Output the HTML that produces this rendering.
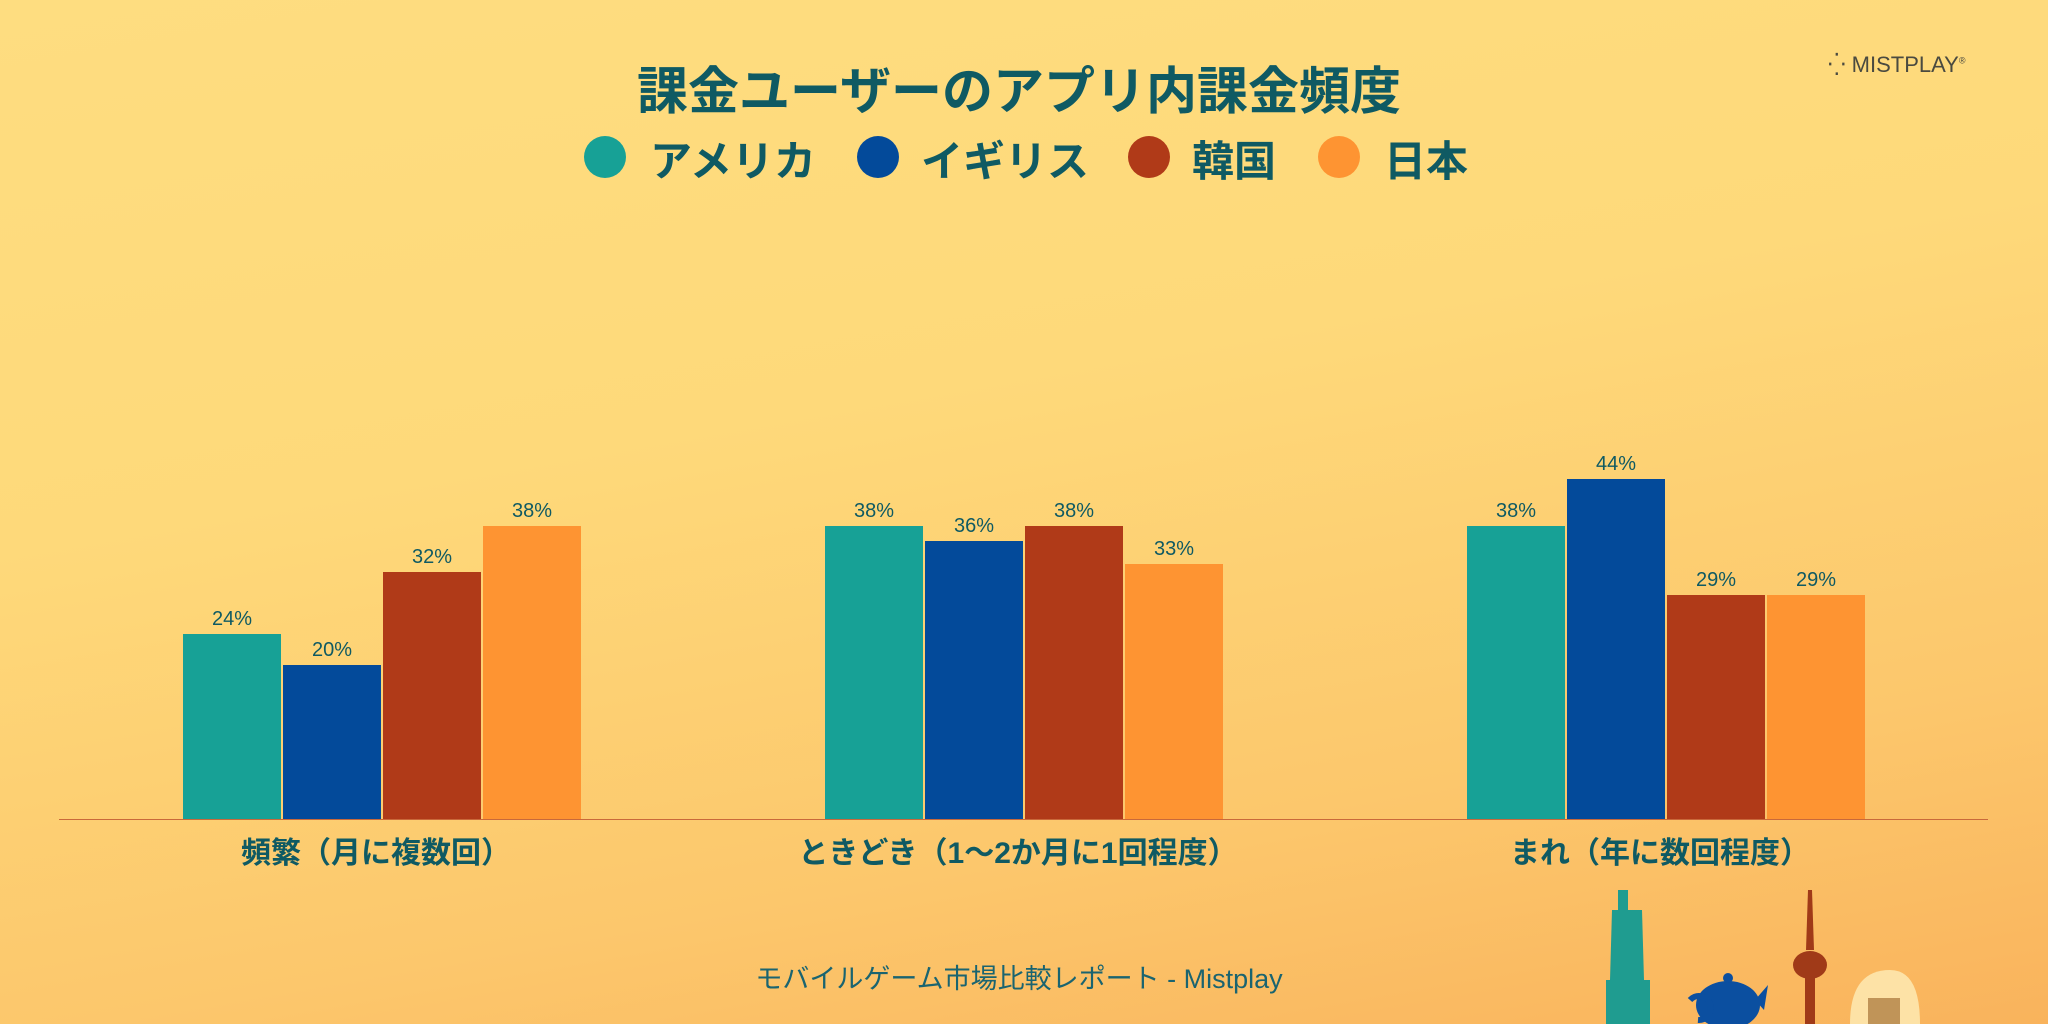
<!DOCTYPE html>
<html><head><meta charset="utf-8"><style>
body{margin:0;width:2048px;height:1024px;overflow:hidden;font-family:"Liberation Sans","Noto Sans CJK JP",sans-serif;}
#c{position:relative;width:2048px;height:1024px;background:linear-gradient(170deg,#fedd80 0%,#fed97a 40%,#fcc76c 75%,#f9b35c 100%);}
.t{position:absolute;color:#0f5a63;font-weight:700;white-space:nowrap;}
.bar{position:absolute;bottom:205px;width:98px;}
.v{position:absolute;width:98px;text-align:center;font-size:20px;color:#0f5a63;}
</style></head><body><div id="c">
<div class="t" style="left:0;width:2038px;text-align:center;top:50px;font-size:51px;">課金ユーザーのアプリ内課金頻度</div>
<div style="position:absolute;left:584px;top:136px;width:42px;height:42px;border-radius:50%;background:#17a196"></div>
<div class="t" style="left:650px;top:128px;font-size:42px;">アメリカ</div>
<div style="position:absolute;left:857px;top:136px;width:42px;height:42px;border-radius:50%;background:#034a9a"></div>
<div class="t" style="left:921px;top:128px;font-size:42px;">イギリス</div>
<div style="position:absolute;left:1128px;top:136px;width:42px;height:42px;border-radius:50%;background:#b03a18"></div>
<div class="t" style="left:1192px;top:128px;font-size:42px;">韓国</div>
<div style="position:absolute;left:1318px;top:136px;width:42px;height:42px;border-radius:50%;background:#fe9432"></div>
<div class="t" style="left:1384px;top:128px;font-size:42px;">日本</div>
<div style="position:absolute;left:1828px;top:52px;color:#4a4a40;font-size:22px;">⁛ MISTPLAY<sup style="font-size:9px">®</sup></div>

<div style="position:absolute;left:59px;top:819px;width:1929px;height:1px;background:#c9693a"></div>

<div class="bar" style="left:183px;height:185px;background:#17a196"></div><div class="v" style="left:183px;top:608px">24%</div>
<div class="bar" style="left:283px;height:154px;background:#034a9a"></div><div class="v" style="left:283px;top:639px">20%</div>
<div class="bar" style="left:383px;height:247px;background:#b03a18"></div><div class="v" style="left:383px;top:546px">32%</div>
<div class="bar" style="left:483px;height:293px;background:#fe9432"></div><div class="v" style="left:483px;top:500px">38%</div>

<div class="bar" style="left:825px;height:293px;background:#17a196"></div><div class="v" style="left:825px;top:500px">38%</div>
<div class="bar" style="left:925px;height:278px;background:#034a9a"></div><div class="v" style="left:925px;top:515px">36%</div>
<div class="bar" style="left:1025px;height:293px;background:#b03a18"></div><div class="v" style="left:1025px;top:500px">38%</div>
<div class="bar" style="left:1125px;height:255px;background:#fe9432"></div><div class="v" style="left:1125px;top:538px">33%</div>

<div class="bar" style="left:1467px;height:293px;background:#17a196"></div><div class="v" style="left:1467px;top:500px">38%</div>
<div class="bar" style="left:1567px;height:340px;background:#034a9a"></div><div class="v" style="left:1567px;top:453px">44%</div>
<div class="bar" style="left:1667px;height:224px;background:#b03a18"></div><div class="v" style="left:1667px;top:569px">29%</div>
<div class="bar" style="left:1767px;height:224px;background:#fe9432"></div><div class="v" style="left:1767px;top:569px">29%</div>

<div class="t" style="left:176px;width:400px;text-align:center;top:828px;font-size:30px;">頻繁（月に複数回）</div>
<div class="t" style="left:718px;width:600px;text-align:center;top:828px;font-size:30px;">ときどき（1〜2か月に1回程度）</div>
<div class="t" style="left:1360px;width:600px;text-align:center;top:828px;font-size:30px;">まれ（年に数回程度）</div>

<div class="t" style="left:0;width:2038px;text-align:center;top:957px;font-size:27px;font-weight:400;color:#1a6470;">モバイルゲーム市場比較レポート - Mistplay</div>

<svg style="position:absolute;left:1550px;top:850px" width="498" height="174">
<g fill="#1f9c90"><rect x="68" y="40" width="10" height="20"/><path d="M62 60 L92 60 L94 130 L60 130Z"/><rect x="56" y="130" width="44" height="44"/></g>
<g fill="#0b4fa0"><ellipse cx="178" cy="155" rx="32" ry="24"/><circle cx="178" cy="128" r="5"/><path d="M140 150 a12 12 0 1 1 8 20" stroke="#0b4fa0" stroke-width="6" fill="none"/><path d="M205 150 L218 135 L214 160Z"/></g>
<g fill="#a03a18"><path d="M258 40 L262 40 L264 100 L256 100Z"/><ellipse cx="260" cy="115" rx="17" ry="14"/><rect x="255" y="125" width="10" height="49"/></g>
<path d="M300 174 Q300 120 340 120 Q370 120 370 174Z" fill="#fde2a6"/><rect x="318" y="148" width="32" height="26" fill="#c09458"/>
</svg>
</div></body></html>
